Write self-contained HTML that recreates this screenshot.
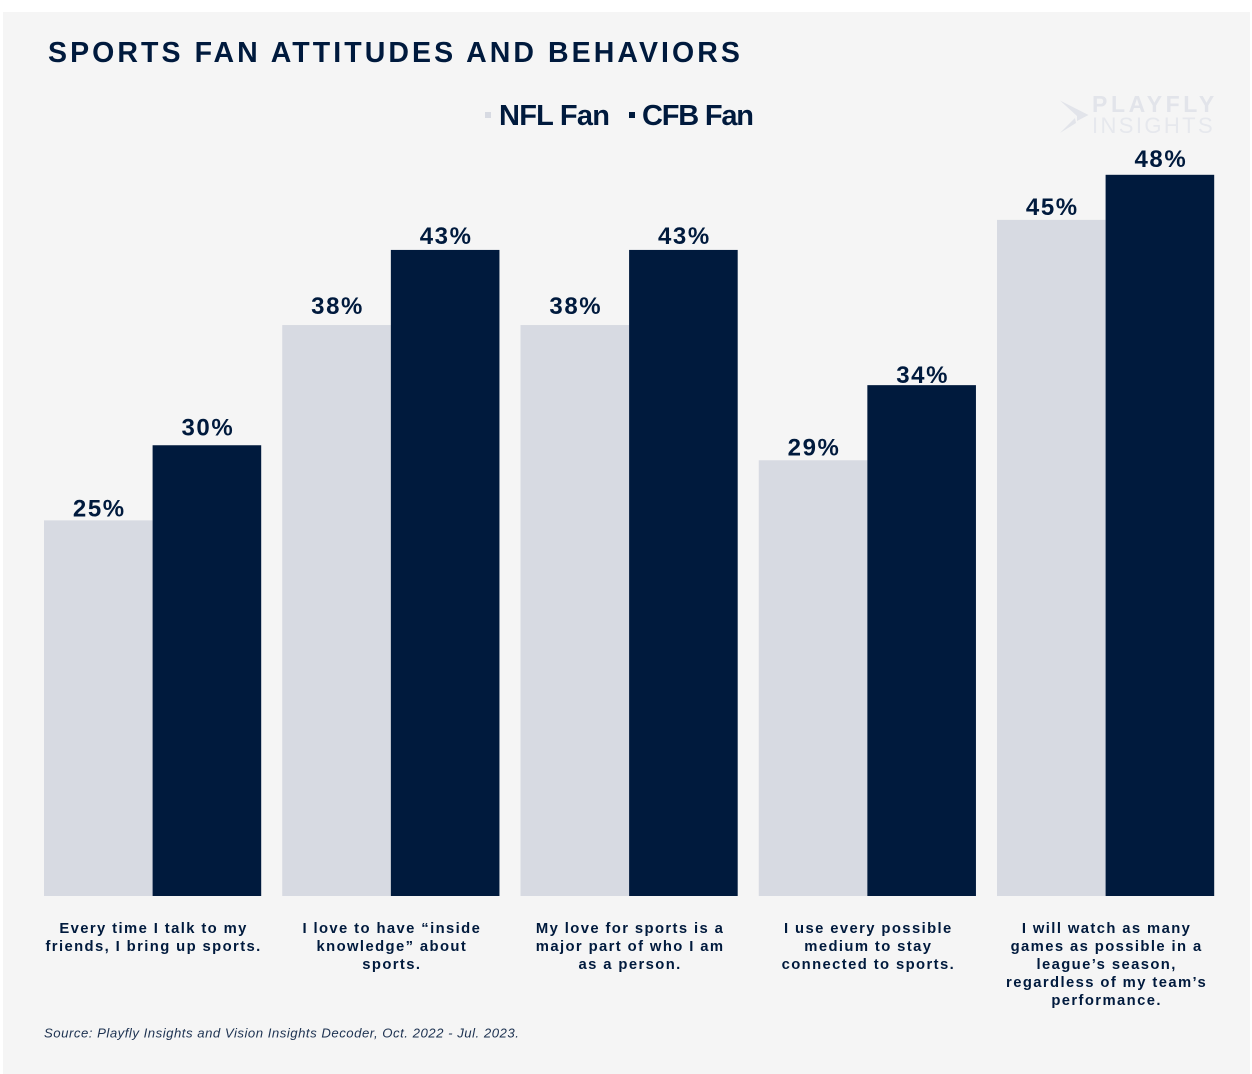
<!DOCTYPE html>
<html lang="en">
<head>
<meta charset="utf-8">
<title>Sports Fan Attitudes and Behaviors</title>
<style>
html,body{margin:0;padding:0;background:#fff;width:1252px;height:1074px;overflow:hidden}
svg{display:block}
text{font-family:"Liberation Sans",sans-serif;fill:#001a3d}
</style>
</head>
<body>
<svg id="chart" width="1252" height="1074" viewBox="0 0 1252 1074" xmlns="http://www.w3.org/2000/svg">
  <rect x="3" y="12" width="1247" height="1062" fill="#f5f5f5"/>
  <text x="48" y="62" font-size="28.5" font-weight="700" letter-spacing="3.07">SPORTS FAN ATTITUDES AND BEHAVIORS</text>
  <g>
    <rect x="485" y="112" width="6" height="6" fill="#d7dae2"/>
    <text x="499" y="125" font-size="29" font-weight="700" letter-spacing="-0.75">NFL Fan</text>
    <rect x="629" y="112" width="6" height="6" fill="#001a3d"/>
    <text x="642" y="125" font-size="29" font-weight="700" letter-spacing="-1.2">CFB Fan</text>
  </g>
  <g>
    <path d="M1060 100.5 L1088.5 115 L1077 121 L1077 116 Z" fill="#e2e4ea"/>
    <path d="M1060 133 L1075 118 L1076 123 Z" fill="#e2e4ea"/>
    <text x="1092" y="112" font-size="23" font-weight="700" letter-spacing="3.6" style="fill:#e2e4ea">PLAYFLY</text>
    <text x="1092" y="133" font-size="22" letter-spacing="2.4" style="fill:#e6e8ed">INSIGHTS</text>
  </g>
  <g id="bars"></g>
  <g id="labels"></g>
  <g id="cats"></g>
  <text x="44" y="1037.5" font-size="13.2" font-style="italic" letter-spacing="0.5" style="fill:#1c3150">Source: Playfly Insights and Vision Insights Decoder, Oct. 2022 - Jul. 2023.</text>
</svg>
<script>
const categories = [
  ["Every time I talk to my", "friends, I bring up sports."],
  ["I love to have “inside", "knowledge” about", "sports."],
  ["My love for sports is a", "major part of who I am", "as a person."],
  ["I use every possible", "medium to stay", "connected to sports."],
  ["I will watch as many", "games as possible in a", "league’s season,", "regardless of my team’s", "performance."]
];
const nflValues = [25, 38, 38, 29, 45];
const cfbValues = [30, 43, 43, 34, 48];

const NS = "http://www.w3.org/2000/svg";
const baseY = 896, pxPerPct = 15.025, startX = 44, step = 238.25, barW = 108.6;
// Label gaps above each bar vary slightly in the source layout
const nflLabelGap = [4, 11, 11, 5, 5];
const cfbLabelGap = [10, 6, 6, 2, 8];
const yScale = v => baseY - v * pxPerPct;
const groupX = i => startX + i * step;
const barsG = document.getElementById("bars");
const labelsG = document.getElementById("labels");
const catsG = document.getElementById("cats");

function drawBar(x, v, fill, name) {
  const r = document.createElementNS(NS, "rect");
  r.setAttribute("x", x);
  r.setAttribute("y", yScale(v));
  r.setAttribute("width", barW);
  r.setAttribute("height", baseY - yScale(v));
  r.setAttribute("fill", fill);
  
  
  barsG.appendChild(r);
}
function drawValue(x, v, gap, name) {
  const t = document.createElementNS(NS, "text");
  t.setAttribute("x", x + barW / 2 + 1);
  t.setAttribute("y", yScale(v) - gap);
  t.setAttribute("text-anchor", "middle");
  t.setAttribute("font-size", "24");
  t.setAttribute("font-weight", "700");
  t.setAttribute("letter-spacing", "1.6");
  t.textContent = v + "%";
  
  
  labelsG.appendChild(t);
}
categories.forEach((lines, i) => {
  const x = groupX(i);
  drawBar(x, nflValues[i], "#d7dae2", "bar-nfl");
  drawBar(x + barW, cfbValues[i], "#001a3d", "bar-cfb");
  drawValue(x, nflValues[i], nflLabelGap[i], "value-label-nfl");
  drawValue(x + barW, cfbValues[i], cfbLabelGap[i], "value-label-cfb");
  lines.forEach((line, j) => {
    const t = document.createElementNS(NS, "text");
    t.setAttribute("x", x + barW + 1);
    t.setAttribute("y", 933 + j * 18);
    t.setAttribute("text-anchor", "middle");
    t.setAttribute("font-size", "14.8");
    t.setAttribute("font-weight", "700");
    t.setAttribute("letter-spacing", "1.4");
    t.textContent = line;
    
    
    catsG.appendChild(t);
  });
});
</script>
</body>
</html>
